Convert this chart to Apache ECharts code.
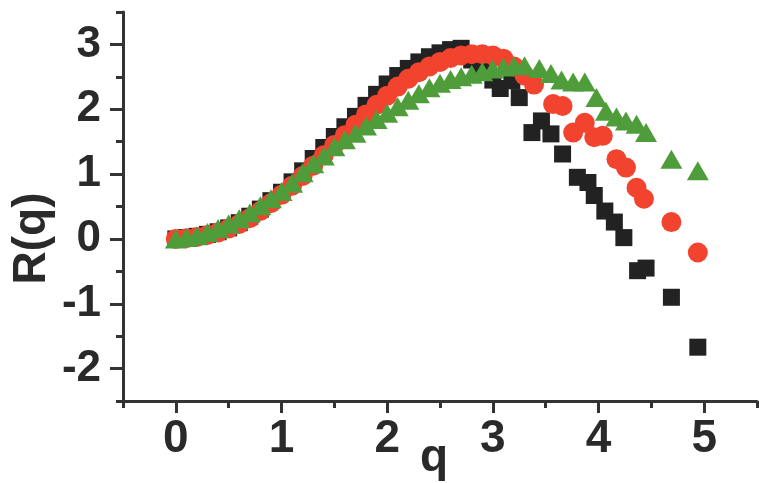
<!DOCTYPE html>
<html>
<head>
<meta charset="utf-8">
<script src="https://cdn.jsdelivr.net/npm/echarts@6/dist/echarts.min.js"></script>
<style>
html,body{margin:0;padding:0;background:#fff;}
#c{width:759px;height:483px;}
</style>
</head>
<body>
<div id="c"></div>
<script>
// ---- data ----
const qBlack = [0,0.1,0.2,0.3,0.4,0.5,0.6,0.7,0.8,0.9,1.0,1.1,1.2,1.3,1.4,1.5,1.6,1.7,1.8,1.9,2.0,2.1,2.2,2.3,2.4,2.5,2.6,2.7,
  2.8,2.9,3.0,3.07,3.18,3.25,3.37,3.46,3.55,3.66,3.80,3.90,3.96,4.06,4.15,4.24,4.37,4.45,4.69,4.94];
const rBlack = [0.0,0.02,0.04,0.07,0.11,0.17,0.25,0.35,0.46,0.59,0.72,0.88,1.05,1.24,1.41,1.58,1.73,1.89,2.06,2.23,2.39,2.52,2.63,2.73,2.81,2.87,2.92,2.94,
  2.76,2.6,2.45,2.32,2.44,2.18,1.64,1.82,1.62,1.31,0.95,0.87,0.67,0.43,0.26,0.02,-0.49,-0.45,-0.9,-1.67];

const qRed = [0,0.1,0.2,0.3,0.4,0.5,0.6,0.7,0.8,0.9,1.0,1.1,1.2,1.3,1.4,1.5,1.6,1.7,1.8,1.9,2.0,2.1,2.2,2.3,2.4,2.5,2.6,2.7,2.8,2.9,3.0,3.1,3.2,3.3,
  3.39,3.57,3.66,3.76,3.87,3.96,4.04,4.17,4.26,4.36,4.43,4.69,4.94];
const rRed = [0.0,0.01,0.03,0.06,0.1,0.16,0.23,0.32,0.43,0.55,0.68,0.82,0.97,1.13,1.29,1.45,1.60,1.76,1.92,2.07,2.21,2.35,2.47,2.57,2.66,2.73,2.79,2.83,2.85,2.85,2.83,2.78,2.66,2.52,
  2.38,2.08,2.05,1.64,1.79,1.57,1.59,1.23,1.10,0.79,0.62,0.26,-0.21];

const qGreen = [0,0.1,0.2,0.3,0.4,0.5,0.6,0.7,0.8,0.9,1.0,1.1,1.2,1.3,1.4,1.5,1.6,1.7,1.8,1.9,2.0,2.1,2.2,2.3,2.4,2.5,2.6,2.7,2.8,2.9,3.0,3.1,3.2,3.3,
  3.44,3.55,3.65,3.76,3.87,3.98,4.07,4.17,4.26,4.36,4.45,4.69,4.94];
const rGreen = [0.0,0.02,0.05,0.1,0.16,0.23,0.31,0.40,0.51,0.62,0.73,0.86,1.02,1.16,1.28,1.42,1.53,1.63,1.74,1.84,1.94,2.04,2.14,2.24,2.33,2.40,2.46,2.50,2.54,2.58,2.62,2.65,2.67,2.67,
  2.63,2.55,2.45,2.42,2.42,2.18,1.97,1.88,1.82,1.77,1.64,1.23,1.05];

// tick positions (half-unit steps; integers get long ticks + labels)
const xTickValues = ['-0.5','0','0.5','1','1.5','2','2.5','3','3.5','4','4.5','5','5.5'];
const yTickValues = ['-2.5','-2','-1.5','-1','-0.5','0','0.5','1','1.5','2','2.5','3','3.5'];

function pairs(xs, ys){ return xs.map((x,i)=>[x, ys[i]]); }
function isInt(s){ return Number.isInteger(Number(s)); }

const AX = '#333333';
const FONT = 'Liberation Sans, Arial, sans-serif';
const lab = {fontFamily: FONT, fontWeight: 'bold', color: '#2a2a2a'};

// one category axis per direction: long ticks + labels at integers, short ticks at halves (second axis)
function catAxis(cats, pos, major, len, labelOpts){
  return {type:'category', data:cats, boundaryGap:false, position:pos, offset:0,
    axisLine:{show:false, onZero:false},
    axisTick:{show:true, length:len, lineStyle:{color:AX, width:3},
      interval:(i, v) => major ? isInt(v) : !isInt(v)},
    axisLabel: labelOpts ? Object.assign({show:true, interval:(i, v) => isInt(v)}, labelOpts) : {show:false},
    splitLine:{show:false}};
}

const chart = echarts.init(document.getElementById('c'), null, {renderer:'canvas'});
chart.setOption({
  backgroundColor: '#ffffff',
  animation: false,
  grid: {left: 123, right: 2, top: 12, bottom: 82, containLabel: false, outerBoundsMode: 'none'},
  xAxis: [
    {type:'value', min:-0.5, max:5.5, interval:0.5, position:'bottom',
     axisLine:{show:true, onZero:false, lineStyle:{color:AX, width:3}},
     axisTick:{show:false}, axisLabel:{show:false}, splitLine:{show:false},
     name:'q', nameLocation:'middle', nameGap:34, nameMoveOverlap:false,
     nameTextStyle:{fontSize:46, ...lab, padding:[0,12,0,0]}
    },
    catAxis(xTickValues, 'bottom', true, 12, {margin:15, fontSize:46, ...lab}),
    catAxis(xTickValues, 'bottom', false, 7, null)
  ],
  yAxis: [
    {type:'value', min:-2.5, max:3.5, interval:0.5, position:'left',
     axisLine:{show:true, onZero:false, lineStyle:{color:AX, width:3}},
     axisTick:{show:false}, axisLabel:{show:false}, splitLine:{show:false},
     name:'R(q)', nameLocation:'middle', nameGap:68, nameRotate:90, nameMoveOverlap:false,
     nameTextStyle:{fontSize:46, ...lab, padding:[0,64,0,0]}
    },
    catAxis(yTickValues, 'left', true, 13, {margin:22, fontSize:44, ...lab}),
    catAxis(yTickValues, 'left', false, 7, null)
  ],
  series: [
    {type:'scatter', name:'black', xAxisIndex:0, yAxisIndex:0, data:pairs(qBlack, rBlack),
     symbol:'rect', symbolSize:17, itemStyle:{color:'#222222', opacity:1}, z:2},
    {type:'scatter', name:'red', xAxisIndex:0, yAxisIndex:0, data:pairs(qRed, rRed),
     symbol:'circle', symbolSize:20, itemStyle:{color:'#f2432e', opacity:1}, z:3},
    {type:'scatter', name:'green', xAxisIndex:0, yAxisIndex:0, data:pairs(qGreen, rGreen),
     symbol:'triangle', symbolSize:[22,19], itemStyle:{color:'#4f9d3a', opacity:1}, z:4}
  ]
});
</script>
</body>
</html>
